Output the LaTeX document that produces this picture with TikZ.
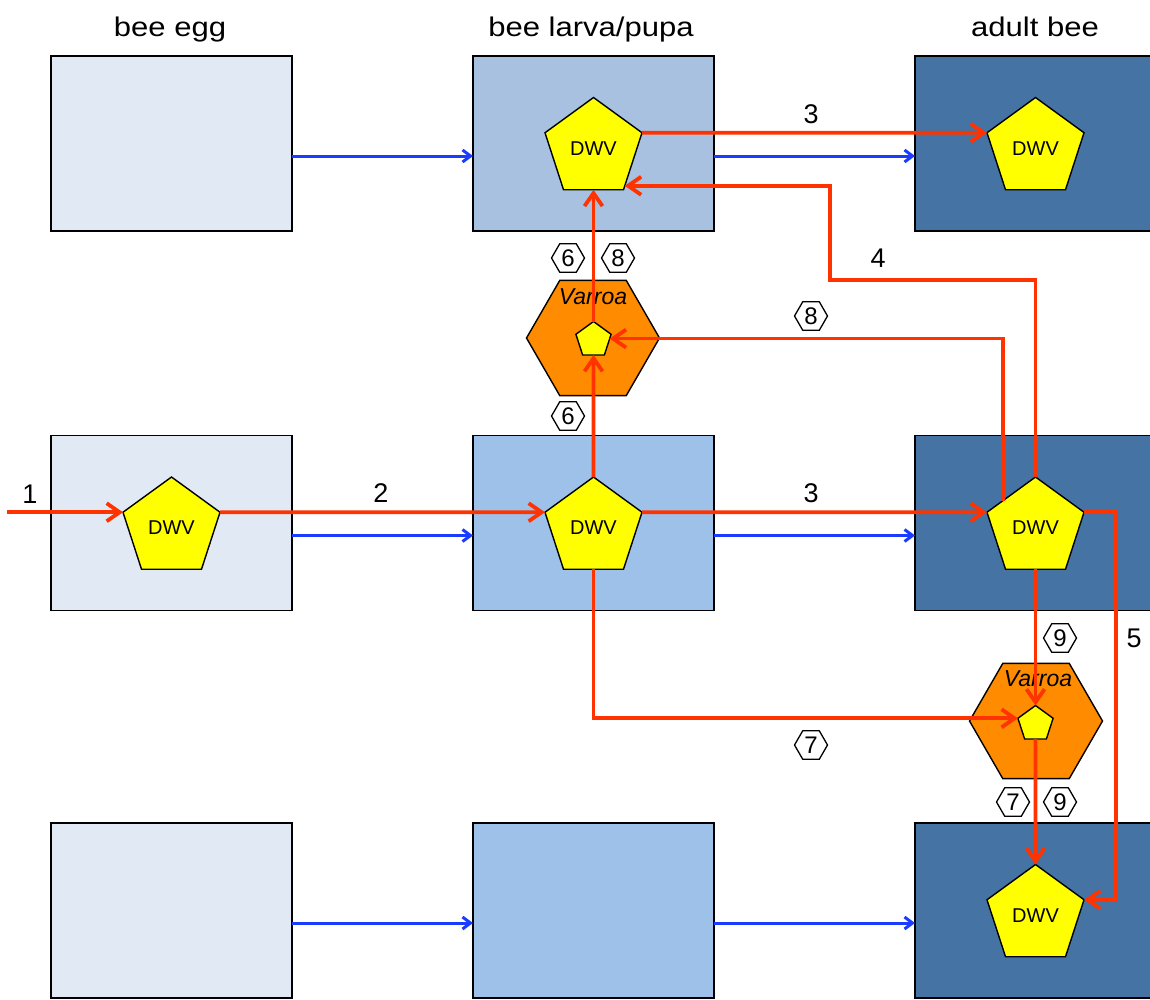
\documentclass[tikz,border=0pt]{standalone}
\usepackage{fontspec}
\setmainfont{Liberation Sans}
\newfontfamily\hdrfont[FakeStretch=1.15]{Liberation Sans}
\usetikzlibrary{shapes.geometric,arrows.meta}
\definecolor{eggfill}{HTML}{E1E9F4}
\definecolor{larvafillA}{HTML}{A8C1E0}
\definecolor{larvafill}{HTML}{9EC1E9}
\definecolor{adultfill}{HTML}{4573A3}
\definecolor{virusred}{HTML}{FF3300}
\definecolor{devblue}{HTML}{1A3CFF}
\definecolor{mitefill}{HTML}{FF8C00}
\definecolor{virusfill}{HTML}{FFFF00}
\begin{document}
\begin{tikzpicture}[x=1pt,y=-1pt,
  stage/.style={draw=black, line width=1.6pt, minimum width=241pt,
    minimum height=175pt, inner sep=0pt, outer sep=0pt},
  virus/.style={regular polygon, regular polygon sides=5, draw=black,
    line width=1.4pt, fill=virusfill, minimum size=102pt, inner sep=0pt,
    outer sep=0pt, font=\fontsize{20}{24}\selectfont},
  smallvirus/.style={virus, minimum size=37pt},
  mite/.style={regular polygon, regular polygon sides=6, draw=black,
    line width=1.4pt, fill=mitefill, minimum size=133pt, inner sep=0pt,
    outer sep=0pt},
  mitename/.style={font=\fontsize{23}{26}\selectfont\itshape, anchor=base,
    inner sep=0pt},
  header/.style={font=\hdrfont\fontsize{27}{30}\selectfont, anchor=base,
    inner sep=0pt},
  num/.style={font=\fontsize{27}{30}\selectfont, inner sep=0pt},
  hexnum/.style={regular polygon, regular polygon sides=6, draw=black,
    line width=1.3pt, minimum size=33pt, inner sep=0pt,
    font=\fontsize{24}{26}\selectfont},
  vir/.style={draw=virusred, line width=3.8pt,
    -{Straight Barb[length=13pt,width=18pt]}},
  dev/.style={draw=devblue, line width=3pt,
    -{Straight Barb[length=8pt,width=12pt]}}
]
\path[use as bounding box] (0,0) rectangle (1150,999);
\clip (0,0) rectangle (1150,999);

% column headers
\node[header] (h1) at (170,36) {bee egg};
\node[header] (h2) at (591,36) {bee larva/pupa};
\node[header] (h3) at (1035,36) {adult bee};

% developmental stages, three generations
\node[stage, fill=eggfill]    (e1) at (171.5,143.5) {};
\node[stage, fill=larvafillA] (l1) at (593.5,143.5) {};
\node[stage, fill=adultfill]  (a1) at (1035.5,143.5) {};
\node[stage, fill=eggfill]    (e2) at (171.5,523) {};
\node[stage, fill=larvafill]  (l2) at (593.5,523) {};
\node[stage, fill=adultfill]  (a2) at (1035.5,523) {};
\node[stage, fill=eggfill]    (e3) at (171.5,910.5) {};
\node[stage, fill=larvafill]  (l3) at (593.5,910.5) {};
\node[stage, fill=adultfill]  (a3) at (1035.5,910.5) {};

% development arrows
\foreach \r in {1,2,3}{
  \draw[dev] ([yshift=-12.5pt]e\r.east) -- ([yshift=-12.5pt]l\r.west);
  \draw[dev] ([yshift=-12.5pt]l\r.east) -- ([yshift=-12.5pt]a\r.west);
}

% varroa mites
\node[mite] (mA) at (593,338) {};
\node[mitename] (tA) at (593,304) {Varroa};
\node[mite] (mB) at (1036,721) {};
\node[mitename] (tB) at (1038,686) {Varroa};

% virus in the bees
\node[virus] (v2) at (593.5,148.5) {DWV};
\node[virus] (v3) at (1035.5,148.5) {DWV};
\node[virus] (v4) at (171.5,528) {DWV};
\node[virus] (v5) at (593.5,528) {DWV};
\node[virus] (v6) at (1035.5,528) {DWV};
\node[virus] (v9) at (1035.5,915.5) {DWV};
% virus in the mites
\node[smallvirus] (s1) at (593.5,340) {};
\node[smallvirus] (s2) at (1035.5,724) {};

% transmission routes
\path (v4.162) ++(-116,0) coordinate (src);
\coordinate (c4) at (830,280);
\coordinate (c5) at (1116,700);
\draw[vir] (src) -- (v4.162);
\draw[vir] (v4.18) -- (v5.162);
\draw[vir] (v5.18) -- (v6.162);
\draw[vir] (v2.18) -- (v3.162);
\draw[vir] (v6.north) |- (c4) |- (v2.-50);
\draw[vir] (v6.18) -| (c5) |- (v9.18);
\draw[vir] (v5.north) -- (s1.south);
\draw[vir] (s1.north) -- (v2.south);
\draw[vir] (v6.140) |- (s1.5);
\draw[vir] (v5.south) |- (s2.162);
\draw[vir] (v6.south) -- (s2.north);
\draw[vir] (s2.south) -- (v9.north);

% route numbers
\node[num] (n1) at (30,494) {1};
\node[num] (n2) at (381,493) {2};
\node[num] (n3) at (811,493) {3};
\node[num] (n3b) at (811,114) {3};
\node[num] (n4) at (878,258) {4};
\node[num] (n5) at (1134,638) {5};
\node[hexnum] (k6a) at (568,258) {6};
\node[hexnum] (k8a) at (618,258) {8};
\node[hexnum] (k6b) at (568,416) {6};
\node[hexnum] (k8b) at (811,316) {8};
\node[hexnum] (k9a) at (1060,638) {9};
\node[hexnum] (k7a) at (811,745) {7};
\node[hexnum] (k7b) at (1013,802) {7};
\node[hexnum] (k9b) at (1060,802) {9};
\end{tikzpicture}
\end{document}
